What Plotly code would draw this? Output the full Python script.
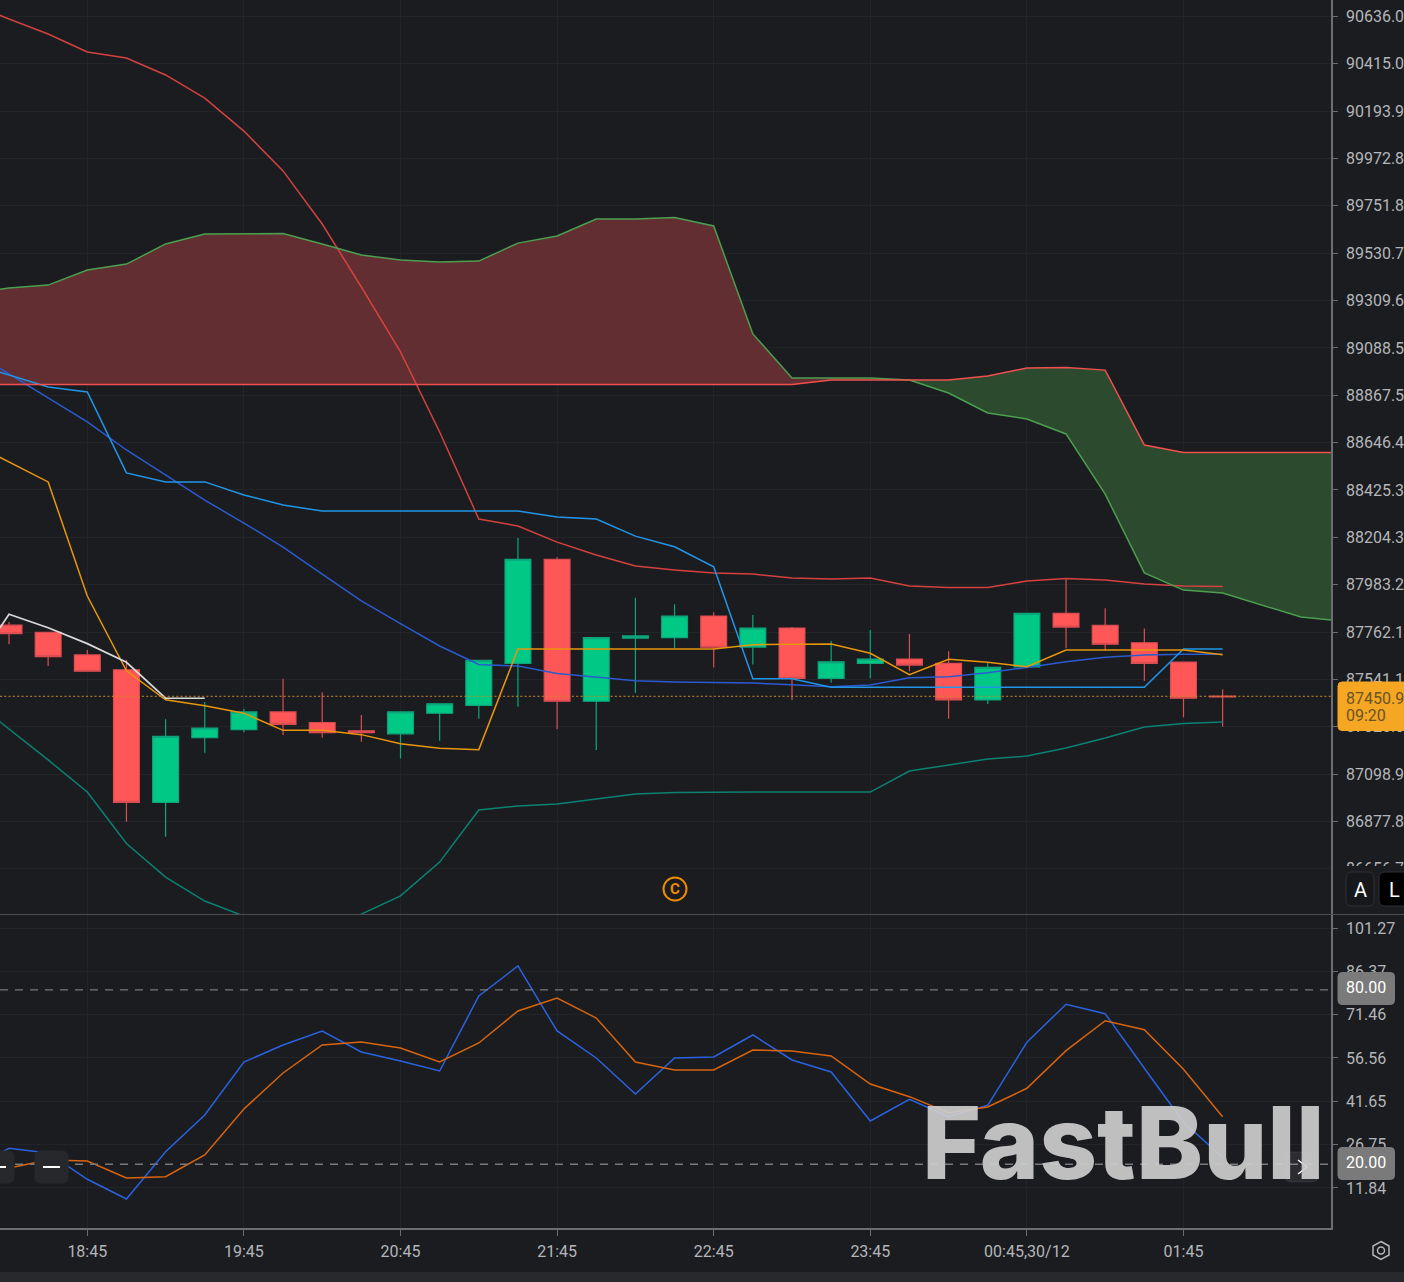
import pandas as pd
import plotly.graph_objects as go

# 15 minute bars, 18:00 is only there so the lines run off the left edge
times = pd.date_range("2025-12-29 18:00", periods=36, freq="15min")
candle_times = times[1:33]

opens = [87794, 87761, 87655, 87586, 86967, 87269, 87306, 87389, 87339, 87301, 87287, 87383,
         87420, 87616, 88102, 87439, 87734, 87736, 87837, 87692, 87781, 87546, 87616, 87636,
         87616, 87445, 87599, 87849, 87793, 87712, 87622, 87463]
highs = [87809, 87761, 87678, 87631, 87355, 87435, 87404, 87544, 87481, 87375, 87389, 87427,
         87630, 88201, 88111, 87736, 87922, 87892, 87854, 87842, 87785, 87720, 87771, 87753,
         87672, 87617, 87849, 88008, 87873, 87778, 87622, 87495]
lows = [87705, 87603, 87579, 86876, 86806, 87199, 87294, 87281, 87269, 87250, 87172, 87255,
        87357, 87413, 87308, 87211, 87477, 87686, 87597, 87610, 87445, 87525, 87546, 87579,
        87357, 87426, 87599, 87686, 87675, 87533, 87364, 87320]
closes = [87754, 87647, 87579, 86967, 87275, 87313, 87389, 87331, 87292, 87292, 87389, 87427,
          87630, 88102, 87439, 87736, 87744, 87837, 87691, 87781, 87546, 87623, 87636, 87608,
          87445, 87597, 87849, 87785, 87705, 87616, 87453, 87459]

boll_upper = [90699, 90624, 90554, 90470, 90442, 90363, 90255, 90101, 89915, 89667, 89373, 89070,
              88696, 88290, 88257, 88182, 88122, 88070, 88052, 88038, 88033, 88014, 88010, 88014,
              87977, 87970, 87970, 88000, 88012, 88005, 87986, 87977, 87975]
boll_mid = [89079, 88967, 88855, 88743, 88612, 88495, 88378, 88271, 88159, 88033, 87907, 87801,
            87697, 87611, 87603, 87569, 87552, 87535, 87529, 87525, 87524, 87516, 87507, 87515,
            87549, 87553, 87572, 87597, 87623, 87644, 87655, 87658, 87658]
boll_lower = [87454, 87309, 87165, 87015, 86775, 86618, 86506, 86436, 86347, 86347, 86445, 86530,
              86688, 86931, 86950, 86959, 86982, 87006, 87013, 87015, 87015, 87015, 87015, 87015,
              87113, 87141, 87169, 87183, 87221, 87267, 87319, 87335, 87342]
base_line = [89018, 88962, 88906, 88883, 88505, 88463, 88463, 88402, 88355, 88327, 88327, 88327,
             88327, 88327, 88327, 88299, 88290, 88210, 88160, 88067, 87544, 87544, 87504, 87504,
             87504, 87504, 87504, 87504, 87504, 87504, 87504, 87683, 87683]
conversion_line = [88649, 88556, 88463, 87930, 87581, 87446, 87418, 87383, 87303, 87303, 87283, 87241,
                   87219, 87213, 87683, 87683, 87683, 87683, 87683, 87683, 87703, 87705, 87706, 87663,
                   87563, 87635, 87621, 87600, 87678, 87678, 87678, 87678, 87656]
white_line = [87571, 87845, 87782, 87708, 87621, 87453, 87453]
span_a = [89345, 89368, 89382, 89452, 89480, 89574, 89620, 89623, 89623, 89574, 89522, 89499,
          89490, 89494, 89578, 89611, 89690, 89690, 89697, 89658, 89154, 88948, 88948, 88948,
          88939, 88878, 88785, 88757, 88687, 88406, 88038, 87958, 87944, 87888, 87832, 87814]
span_b = [88918] * 22 + [88939, 88939, 88939, 88939, 88957, 88995, 88997, 88985, 88635,
                         88600, 88600, 88600, 88600, 88600]
cross_at = 24

kd_k = [18.03, 25.49, 23.88, 14.83, 8.05, 24.33, 36.95, 55.18, 61.03, 65.85, 58.62, 55.53,
        52.09, 77.89, 88.21, 65.85, 56.56, 44.17, 56.56, 56.9, 64.47, 55.87, 51.74, 34.89,
        42.35, 36.37, 40.29, 61.96, 75.03, 71.8, 53.01, 34.44, 22.4]
kd_d = [14.59, 18.72, 21.47, 21.13, 15.28, 15.73, 23.19, 39.01, 51.4, 61.03, 62.06, 60.0,
        55.18, 61.72, 72.73, 77.2, 70.32, 55.18, 52.43, 52.43, 59.31, 58.97, 57.25, 47.61,
        43.25, 37.74, 39.7, 46.13, 59.07, 69.39, 66.29, 52.67, 36.37]

last_price_line = 87462
price_ticks = [90636.0, 90415.0, 90193.9, 89972.8, 89751.8, 89530.7, 89309.6, 89088.5, 88867.5, 88646.4,
               88425.3, 88204.3, 87983.2, 87762.1, 87541.1, 87320.0, 87098.9, 86877.8, 86656.7]
kd_ticks = [101.27, 86.37, 71.46, 56.56, 41.65, 26.75, 11.84]
time_ticks = ["2025-12-29 18:45", "2025-12-29 19:45", "2025-12-29 20:45", "2025-12-29 21:45",
              "2025-12-29 22:45", "2025-12-29 23:45", "2025-12-30 00:45", "2025-12-30 01:45"]
time_labels = ["18:45", "19:45", "20:45", "21:45", "22:45", "23:45", "00:45,30/12", "01:45"]

BG = "#1b1c20"
GRID = "#222428"
AXIS = "#6c6e72"
TEXT = "#b4b6b9"
FONT = "Roboto"


def px(x):
    return x / 1331


def py(y):
    return 1 - y / 1228


def box(x0, y0, x1, y1, r):
    # rounded rectangle in page pixels
    a, b, c, d = px(x0), py(y0), px(x1), py(y1)
    rx, ry = r / 1331, r / 1228
    return (f"M{a + rx},{b} L{c - rx},{b} Q{c},{b} {c},{b - ry} L{c},{d + ry} Q{c},{d} {c - rx},{d} "
            f"L{a + rx},{d} Q{a},{d} {a},{d + ry} L{a},{b - ry} Q{a},{b} {a + rx},{b} Z")


def rounded(x0, y0, x1, y1, r, fill, line=None):
    return dict(type="path", xref="paper", yref="paper", path=box(x0, y0, x1, y1, r), fillcolor=fill,
                line=dict(color=line or fill, width=1), layer="above")


def seg(x0, y0, x1, y1, color, width=1):
    return dict(type="line", xref="paper", yref="paper", x0=px(x0), y0=py(y0), x1=px(x1), y1=py(y1),
                line=dict(color=color, width=width), layer="above")


def label(x, y, text, size=16, color=TEXT, anchor="left", **kw):
    font = dict(family=kw.pop("family", FONT), size=size, color=color)
    if "weight" in kw:
        font["weight"] = kw.pop("weight")
    return dict(x=px(x), y=py(y), xref="paper", yref="paper", text=text, showarrow=False, xanchor=anchor,
                yanchor="middle", font=font, borderpad=0, **kw)


def price_axis(**kw):
    return dict(side="right", anchor="x", automargin=False, ticks="outside", ticklen=5, tickcolor=AXIS,
                ticklabelstandoff=5, showline=True, linecolor=AXIS, linewidth=1.5, gridcolor=GRID,
                tickfont=dict(family=FONT, size=16, color=TEXT), zeroline=False, **kw)


fig = go.Figure()

# cloud: red part first, green part after the lines cross
hidden = dict(width=0)
fig.add_trace(go.Scatter(x=times[:cross_at + 1], y=span_b[:cross_at + 1], mode="lines", line=hidden))
fig.add_trace(go.Scatter(x=times[:cross_at + 1], y=span_a[:cross_at + 1], mode="lines", line=hidden,
                         fill="tonexty", fillcolor="#622e32"))
fig.add_trace(go.Scatter(x=times[cross_at:], y=span_a[cross_at:], mode="lines", line=hidden))
fig.add_trace(go.Scatter(x=times[cross_at:], y=span_b[cross_at:], mode="lines", line=hidden,
                         fill="tonexty", fillcolor="#2c4a2e"))

fig.add_trace(go.Candlestick(
    x=candle_times, open=opens, high=highs, low=lows, close=closes,
    increasing=dict(fillcolor="#00c986", line=dict(color="#0ca67c", width=1.2)),
    decreasing=dict(fillcolor="#ff5757", line=dict(color="#dc4d52", width=1.2)),
))

line_times = times[:33]
for values, color in [(boll_upper, "#d4423f"), (boll_mid, "#2a5bd0"), (boll_lower, "#0b8272"),
                      (base_line, "#2196e8"), (conversion_line, "#e8960c")]:
    fig.add_trace(go.Scatter(x=line_times, y=values, mode="lines", line=dict(color=color, width=1.5)))
fig.add_trace(go.Scatter(x=times[:7], y=white_line, mode="lines", line=dict(color="#d9d9d9", width=1.7)))
fig.add_trace(go.Scatter(x=times, y=span_a, mode="lines", line=dict(color="#4c9f50", width=1.5)))
fig.add_trace(go.Scatter(x=times, y=span_b, mode="lines", line=dict(color="#f0514e", width=1.5)))

fig.add_trace(go.Scatter(x=line_times, y=kd_k, yaxis="y2", mode="lines", line=dict(color="#2b62e0", width=1.5)))
fig.add_trace(go.Scatter(x=line_times, y=kd_d, yaxis="y2", mode="lines", line=dict(color="#d9640f", width=1.5)))

shapes = [
    dict(type="line", xref="paper", yref="y", x0=0, x1=1, y0=last_price_line, y1=last_price_line,
         line=dict(color="#c98a20", width=1, dash="2px,2.3px")),
    dict(type="line", xref="paper", yref="y2", x0=0, x1=1, y0=80, y1=80,
         line=dict(color="#77797c", width=1.3, dash="8px,7px")),
    dict(type="line", xref="paper", yref="y2", x0=0, x1=1, y0=20, y1=20,
         line=dict(color="#77797c", width=1.3, dash="8px,7px")),
    # pane separator, mask under the last price tick, footer strip
    seg(0, 914.5, 1404, 914.5, "#4c4e52"),
    dict(type="rect", xref="paper", yref="paper", x0=px(1333), x1=px(1404), y0=py(866), y1=py(914),
         fillcolor=BG, line_width=0, layer="above"),
    dict(type="rect", xref="paper", yref="paper", x0=0, x1=px(1404), y0=py(1272), y1=py(1282),
         fillcolor="#27292d", line_width=0, layer="above"),
    rounded(1338, 682, 1410, 730.5, 4, "#f5a623"),
    rounded(1346, 872, 1374, 906, 6, "#17181b", "#2e3034"),
    rounded(1379, 872, 1410, 906, 6, "#000000", "#2e3034"),
    rounded(1338, 972.5, 1394.5, 1004.5, 4, "#7a7a7a"),
    rounded(1338, 1147.5, 1394.5, 1179.5, 4, "#7a7a7a"),
    rounded(-30, 1151, 14, 1183, 6, "#26282c"),
    rounded(35, 1151, 68, 1183, 6, "#26282c"),
    seg(0, 1167, 6, 1167, "#ffffff", 2),
    seg(43, 1167, 60, 1167, "#ffffff", 2),
    dict(type="circle", xref="paper", yref="paper", x0=px(663.5), x1=px(686.5), y0=py(877.5), y1=py(900.5),
         line=dict(color="#f08c00", width=2), layer="above"),
    # settings gear
    dict(type="circle", xref="paper", yref="paper", x0=px(1377.5), x1=px(1384.5), y0=py(1247), y1=py(1254),
         line=dict(color=TEXT, width=1.5), layer="above"),
    dict(type="path", xref="paper", yref="paper", layer="above", line=dict(color=TEXT, width=1.5),
         path=(f"M{px(1381)},{py(1241.5)} L{px(1389)},{py(1246)} L{px(1389)},{py(1255)} L{px(1381)},{py(1259.5)} "
               f"L{px(1373)},{py(1255)} L{px(1373)},{py(1246)} Z")),
    rounded(1285, 1152, 1318, 1182, 6, "rgba(255,255,255,0.07)"),
    dict(type="path", xref="paper", yref="paper", layer="above", line=dict(color="#ffffff", width=1.5),
         path=f"M{px(1298)},{py(1160)} L{px(1307)},{py(1167)} L{px(1298)},{py(1174)}"),
]

annotations = [
    label(1344.5, 698, "87450.9", color="#6a5426"),
    label(1344.5, 715.5, "09:20", color="#6a5426"),
    label(1360, 890, "A", size=20, color="#ffffff", anchor="center"),
    label(1394, 890, "L", size=20, color="#ffffff", anchor="center"),
    label(1366, 987.5, "80.00", color="#ffffff", anchor="center"),
    label(1366, 1162, "20.00", color="#ffffff", anchor="center"),
    label(675, 889, "C", size=15, color="#f08c00", anchor="center", weight=700),
    label(1123.5, 1142, "FastBull", size=101, color="rgba(205,205,205,0.92)", anchor="center",
          family="Inter", weight=800),
]

fig.update_layout(
    width=1404,
    height=1282,
    margin=dict(l=0, r=73, t=0, b=54),
    paper_bgcolor=BG,
    plot_bgcolor=BG,
    showlegend=False,
    boxgap=0.34,
    boxgroupgap=0,
    shapes=shapes,
    annotations=annotations,
    xaxis=dict(
        range=["2025-12-29 18:11:33", "2025-12-30 02:41:31"],
        anchor="y2",
        automargin=False,
        rangeslider=dict(visible=False),
        tickvals=time_ticks,
        ticktext=time_labels,
        ticks="outside",
        ticklen=6,
        tickcolor=AXIS,
        tickangle=0,
        ticklabelstandoff=2,
        showline=True,
        linecolor=AXIS,
        linewidth=1.5,
        gridcolor=GRID,
        tickfont=dict(family=FONT, size=16, color=TEXT),
        zeroline=False,
    ),
    yaxis=price_axis(
        domain=[1 - 914 / 1228, 1],
        range=[86445.6, 90713],
        tickvals=price_ticks,
        ticktext=[f"{t:.1f}" for t in price_ticks],
    ),
    yaxis2=price_axis(
        domain=[0, 1 - 915 / 1228],
        range=[-1.93, 105.75],
        tickvals=kd_ticks,
        ticktext=[f"{t:.2f}" for t in kd_ticks],
    ),
)

fig.write_html("out.html", config=dict(displayModeBar=False),
               post_script="document.body.style.margin='0';document.body.style.overflow='hidden';")
